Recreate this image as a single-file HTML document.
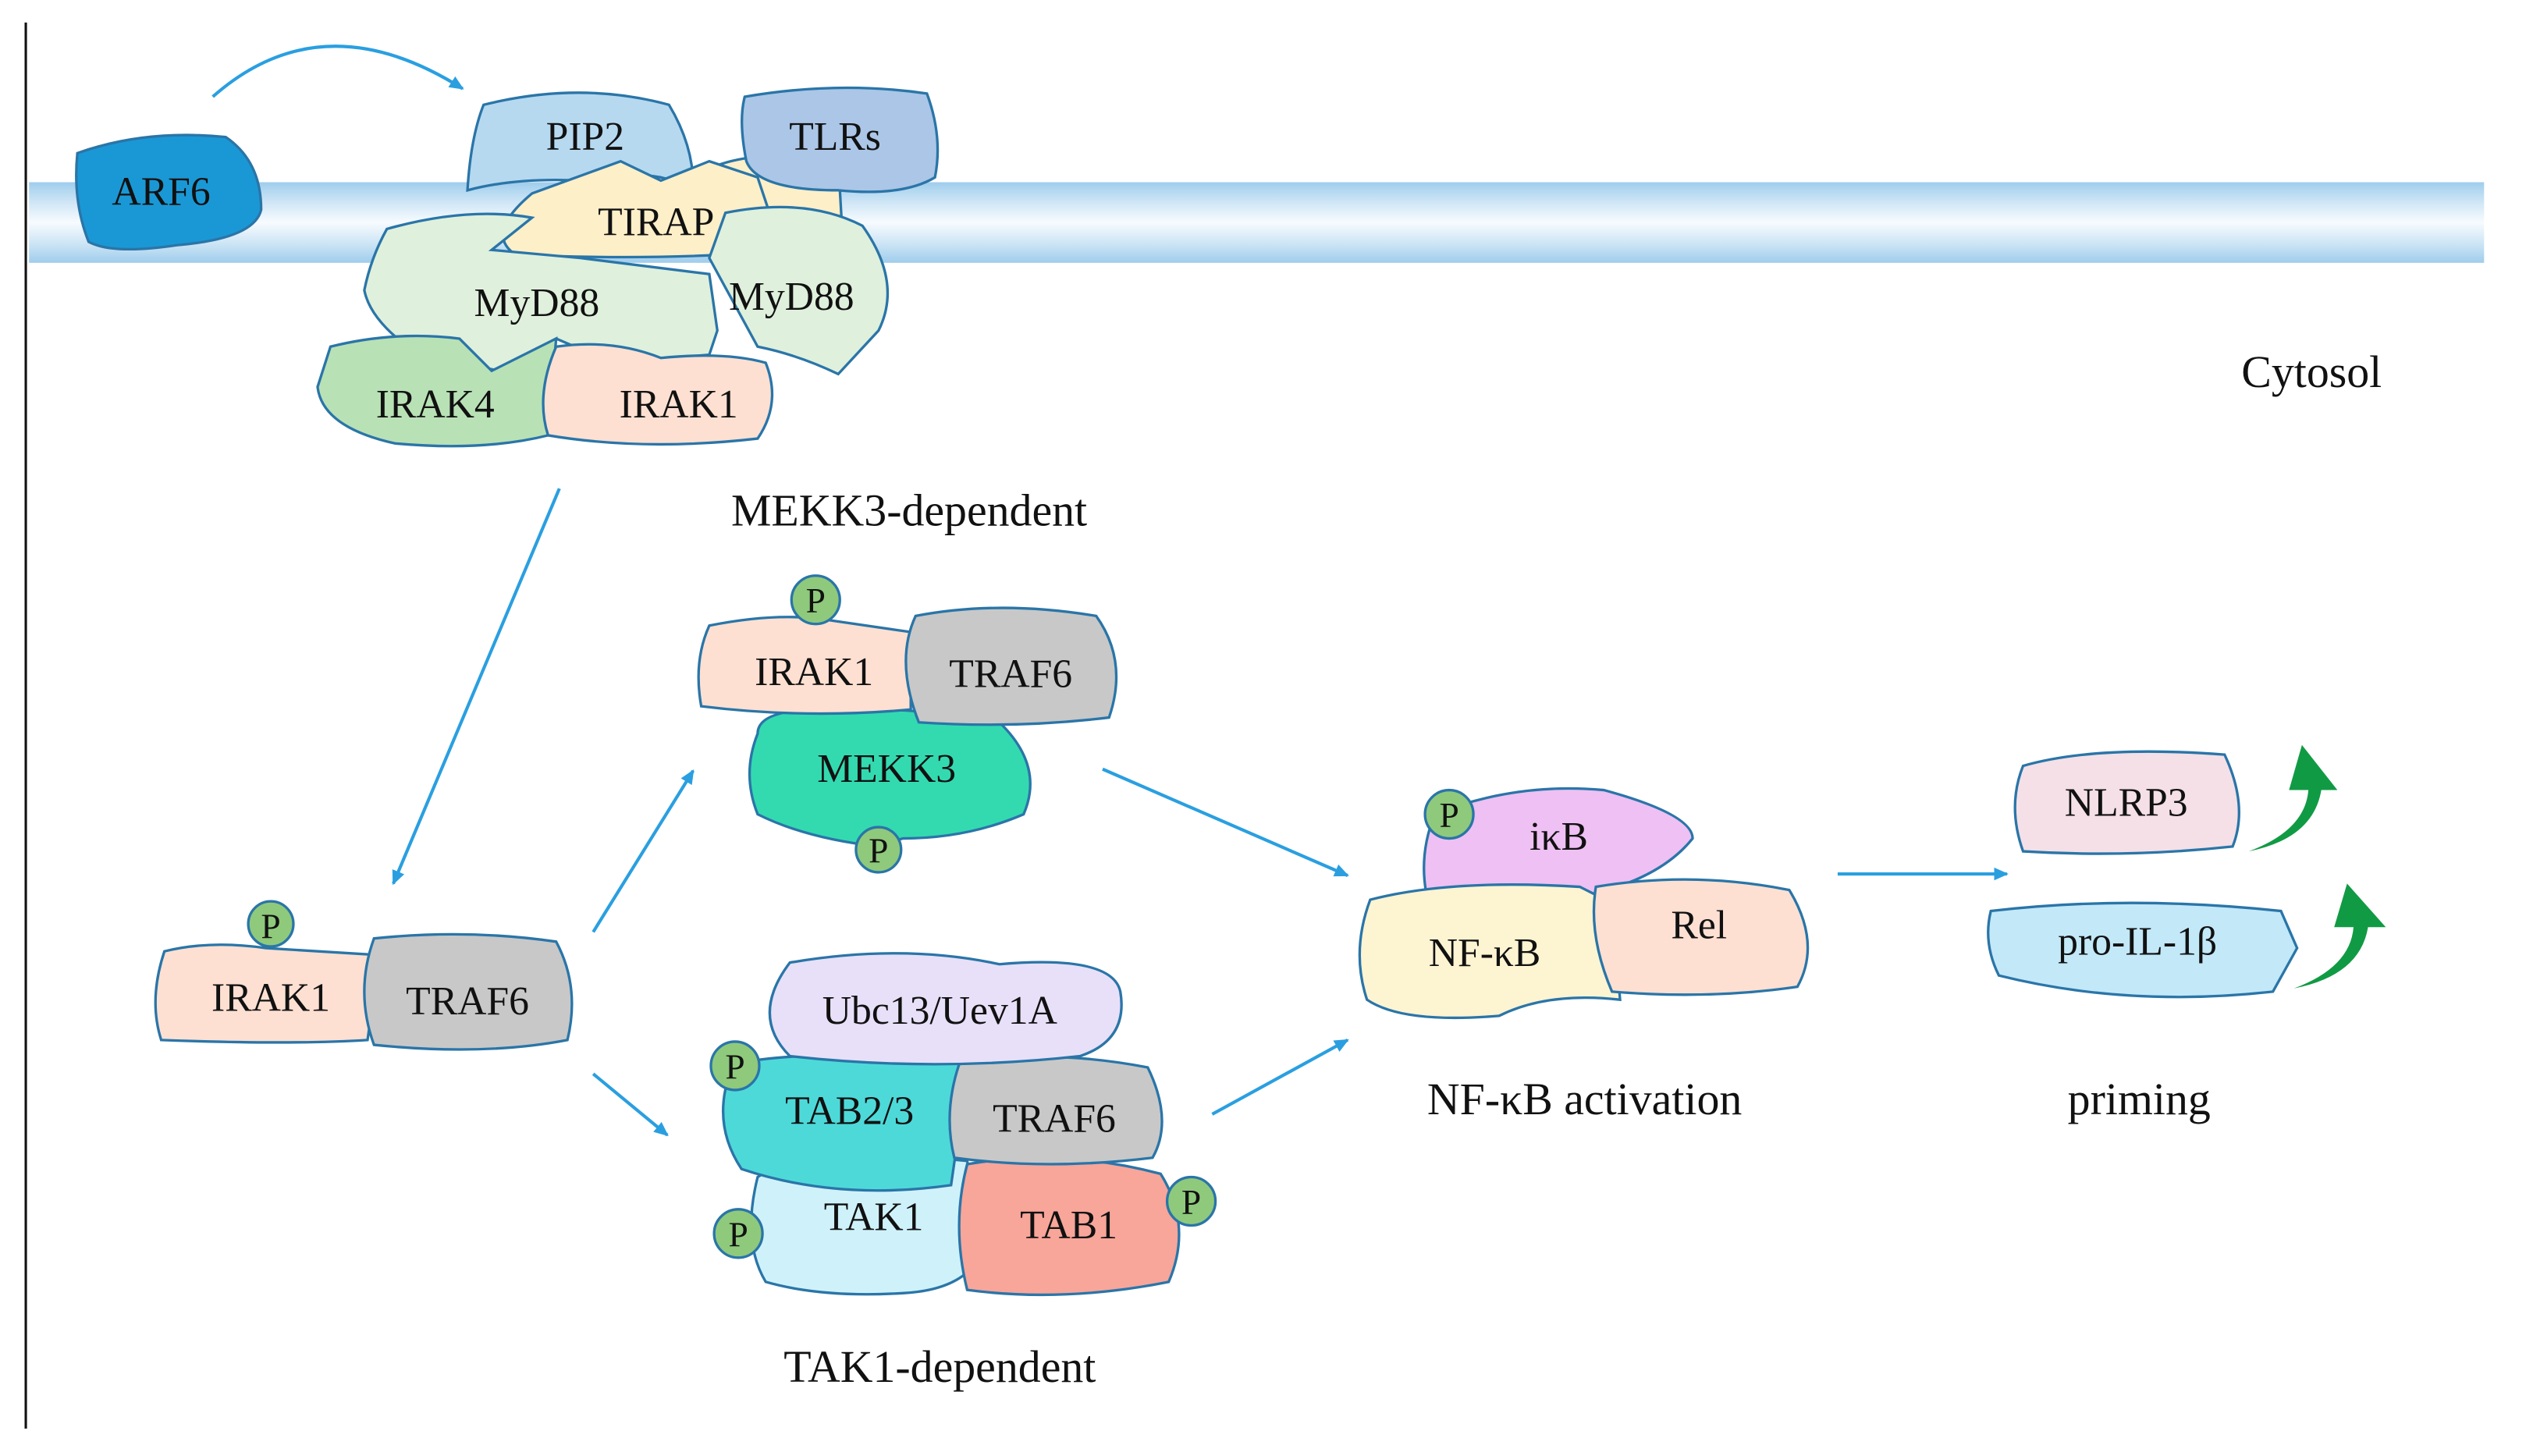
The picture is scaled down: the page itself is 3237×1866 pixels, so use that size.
<!DOCTYPE html>
<html><head><meta charset="utf-8"><style>
html,body{margin:0;padding:0;background:#fff}
svg{display:block}
text{font-family:"Liberation Serif",serif;fill:#111}
</style></head><body>
<svg width="3237" height="1866" viewBox="0 0 1567 903" preserveAspectRatio="none" xmlns="http://www.w3.org/2000/svg">
<defs>
<linearGradient id="mem" x1="0" y1="0" x2="0" y2="1">
<stop offset="0" stop-color="#9fcdec"/><stop offset="0.25" stop-color="#cfe6f6"/><stop offset="0.5" stop-color="#f7fbfe"/><stop offset="0.75" stop-color="#cfe6f6"/><stop offset="1" stop-color="#9fcdec"/>
</linearGradient>
<marker id="ah" markerWidth="10" markerHeight="10" refX="8" refY="5" orient="auto" markerUnits="userSpaceOnUse"><path d="M0,1 L9,5 L0,9 Z" fill="#2a9fe0"/></marker>
</defs>
<line x1="16" y1="14" x2="16" y2="886" stroke="#111" stroke-width="1.5"/>
<rect x="18" y="113" width="1523" height="50" fill="url(#mem)"/>
<g stroke="#2a75a8" stroke-width="1.6">
<path d="M48,95 Q90,80 140,85 Q162,100 162,130 Q158,148 110,152 Q70,158 55,150 Q45,125 48,95Z" fill="#1a98d5"/>
<path d="M300,65 Q360,50 415,65 Q430,90 430,115 L410,110 Q380,105 360,112 Q320,110 290,118 Q292,85 300,65Z" fill="#b6d9f0"/>
<path d="M430,110 Q460,90 520,100 L522,135 L460,140Z" fill="#fdefc8"/>
<path d="M462,60 Q520,50 575,58 Q585,85 580,110 Q560,122 520,118 Q470,118 463,100 Q458,75 462,60Z" fill="#abc6e6"/>
<path d="M330,120 L385,100 L410,112 L440,100 L470,110 L485,155 Q420,162 320,158 Q300,145 330,120Z" fill="#fdefc8"/>
<path d="M450,132 Q500,122 535,140 Q560,175 545,205 L520,232 Q495,220 470,215 L440,160 Z" fill="#dff0dc"/>
<path d="M240,142 Q290,128 330,135 L305,155 L360,160 L440,170 L445,205 L440,220 L380,225 L345,210 L310,230 L260,220 Q230,200 226,180 Q230,160 240,142Z" fill="#dff0dc"/>
<path d="M205,215 Q245,205 285,210 L305,230 L345,210 L340,270 Q300,280 245,275 Q200,265 197,240Z" fill="#b9e1b6"/>
<path d="M345,215 Q380,210 410,222 Q450,218 475,225 Q485,250 470,272 Q400,280 340,270 Q332,245 345,215Z" fill="#fde0d2"/>
<path d="M102,590 Q130,583 165,588 L230,592 Q232,620 228,645 Q180,648 100,645 Q92,620 102,590Z" fill="#fde0d2"/>
<path d="M232,582 Q290,576 345,584 Q360,612 352,645 Q300,655 232,648 Q220,615 232,582Z" fill="#c8c8c8"/>
<circle cx="168" cy="573" r="14" fill="#8fc97c"/>
<path d="M470,455 Q470,440 510,440 Q570,438 620,448 Q648,475 635,505 Q600,520 560,520 L545,525 Q500,520 470,505 Q460,480 470,455Z" fill="#33dab0"/>
<path d="M440,388 Q480,380 510,384 L565,392 L565,440 Q500,446 435,438 Q430,410 440,388Z" fill="#fde0d2"/>
<path d="M568,382 Q620,372 680,382 Q700,410 688,445 Q630,452 570,448 Q555,410 568,382Z" fill="#c8c8c8"/>
<circle cx="506" cy="372" r="15" fill="#8fc97c"/>
<circle cx="545" cy="527" r="14" fill="#8fc97c"/>
<path d="M470,730 Q500,710 600,720 L610,775 Q600,800 560,802 Q510,805 475,795 Q460,770 470,730Z" fill="#cff2fa"/>
<path d="M600,722 Q660,712 720,728 Q740,760 725,795 Q660,808 600,800 Q590,760 600,722Z" fill="#f8a59a"/>
<path d="M455,660 Q500,650 600,658 L595,700 L590,735 Q520,745 460,725 Q440,695 455,660Z" fill="#4ed9d9"/>
<path d="M595,660 Q650,650 712,662 Q728,695 715,718 Q650,726 592,718 Q585,690 595,660Z" fill="#c8c8c8"/>
<path d="M490,597 Q560,585 620,598 Q690,592 695,615 Q700,645 670,655 Q580,665 490,655 Q465,630 490,597Z" fill="#e8e0f8"/>
<circle cx="456" cy="661" r="15" fill="#8fc97c"/>
<circle cx="458" cy="765" r="15" fill="#8fc97c"/>
<circle cx="739" cy="745" r="15" fill="#8fc97c"/>
<path d="M890,505 Q940,485 995,490 Q1050,505 1050,520 Q1030,545 985,555 Q930,560 885,555 Q880,530 890,505Z" fill="#eec0f3"/>
<path d="M850,558 Q900,545 980,550 L1000,560 L1005,620 Q960,615 930,630 Q870,635 848,620 Q838,590 850,558Z" fill="#fdf4d2"/>
<path d="M990,550 Q1050,540 1110,552 Q1130,585 1115,612 Q1060,620 1000,615 Q985,580 990,550Z" fill="#fde0d2"/>
<circle cx="899" cy="505" r="15" fill="#8fc97c"/>
<path d="M1255,475 Q1300,462 1380,468 Q1395,500 1385,525 Q1320,532 1255,528 Q1245,500 1255,475Z" fill="#f4e0e6"/>
<path d="M1235,565 Q1320,555 1415,565 L1425,588 L1410,615 Q1320,625 1240,605 Q1230,585 1235,565Z" fill="#c3e8f8"/>
</g>
<path d="M1395,528 Q1430,515 1432,490 L1420,490 L1428,462 L1450,490 L1440,490 Q1435,520 1395,528Z" fill="#119a44"/>
<path d="M1423,613 Q1458,600 1460,575 L1448,575 L1456,548 L1480,575 L1469,575 Q1464,605 1423,613Z" fill="#119a44"/>
<g stroke="#2a9fe0" stroke-width="2" fill="none" marker-end="url(#ah)">
<path d="M132,60 Q200,0 287,55"/>
<line x1="347" y1="303" x2="244" y2="548"/>
<line x1="368" y1="578" x2="430" y2="478"/>
<line x1="368" y1="666" x2="414" y2="704"/>
<line x1="684" y1="477" x2="836" y2="543"/>
<line x1="752" y1="691" x2="836" y2="645"/>
<line x1="1140" y1="542" x2="1245" y2="542"/>
</g>
<g font-size="25" text-anchor="middle">
<text x="100" y="127">ARF6</text>
<text x="363" y="93">PIP2</text>
<text x="518" y="93">TLRs</text>
<text x="407" y="146">TIRAP</text>
<text x="333" y="196">MyD88</text>
<text x="491" y="192">MyD88</text>
<text x="270" y="259">IRAK4</text>
<text x="421" y="259">IRAK1</text>
<text x="168" y="582" font-size="22">P</text>
<text x="168" y="627">IRAK1</text>
<text x="290" y="629">TRAF6</text>
<text x="506" y="380" font-size="22">P</text>
<text x="505" y="425">IRAK1</text>
<text x="627" y="426">TRAF6</text>
<text x="550" y="485">MEKK3</text>
<text x="545" y="535" font-size="22">P</text>
<text x="583" y="635">Ubc13/Uev1A</text>
<text x="456" y="669" font-size="22">P</text>
<text x="527" y="697">TAB2/3</text>
<text x="654" y="702">TRAF6</text>
<text x="542" y="763">TAK1</text>
<text x="663" y="768">TAB1</text>
<text x="458" y="773" font-size="22">P</text>
<text x="739" y="753" font-size="22">P</text>
<text x="899" y="513" font-size="22">P</text>
<text x="967" y="527">iκB</text>
<text x="921" y="599">NF-κB</text>
<text x="1054" y="582">Rel</text>
<text x="1319" y="506">NLRP3</text>
<text x="1326" y="592">pro-IL-1β</text>
<text x="1434" y="240" font-size="28">Cytosol</text>
<text x="564" y="326" font-size="28">MEKK3-dependent</text>
<text x="983" y="691" font-size="28">NF-κB activation</text>
<text x="1327" y="691" font-size="28">priming</text>
<text x="583" y="857" font-size="28">TAK1-dependent</text>
</g>
</svg>
</body></html>
